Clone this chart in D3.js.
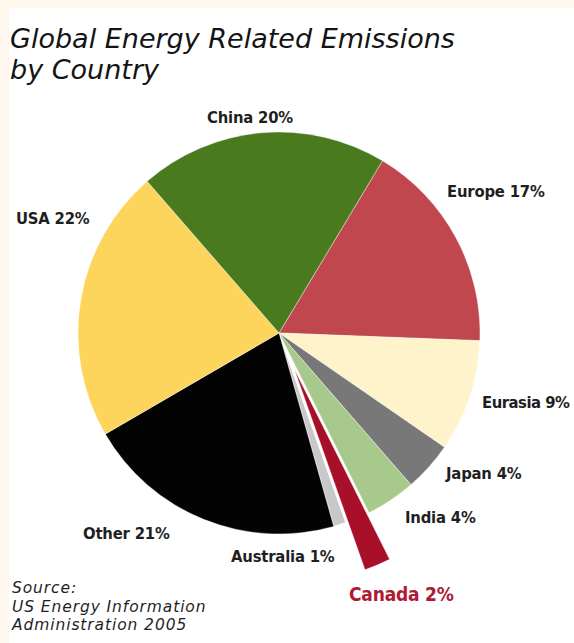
<!DOCTYPE html>
<html>
<head>
<meta charset="utf-8">
<script src="https://cdn.jsdelivr.net/npm/d3@7"></script>
<style>
  html, body { margin: 0; padding: 0; background: #fdf7ee; }
  svg { display: block; }
</style>
</head>
<body>
<svg id="chart" width="574" height="643"></svg>
<script>
// Shares of global energy related emissions, clockwise from the top right
const countries = ["Europe", "Eurasia", "Japan", "India", "Canada", "Australia", "Other", "USA", "China"];
const shares    = [17, 9, 4, 4, 2, 1, 21, 22, 20];
const colors    = ["#c1474f", "#fff3cc", "#787878", "#a7c98b", "#a80f28", "#c8c8c8", "#030303", "#fdd55c", "#4a7a1e"];
const labels    = ["Europe 17%", "Eurasia 9%", "Japan 4%", "India 4%", "Canada 2%", "Australia 1%", "Other 21%", "USA 22%", "China 20%"];
const titleLines  = ["Global Energy Related Emissions", "by Country"];
const sourceLines = ["Source:", "US Energy Information", "Administration 2005"];

const svg = d3.select("#chart");
const W = 574, H = 643;

// white panel inside a thin cream margin
svg.append("rect").attr("x", 9).attr("y", 8).attr("width", W - 9).attr("height", H - 8).attr("fill", "#ffffff");

const cx = 279, cy = 333, R = 201;
const startAngle = 31 * Math.PI / 180;

const pie = d3.pie().sort(null).value(d => d.v)
  .startAngle(startAngle).endAngle(startAngle + 2 * Math.PI);
const data = countries.map((c, i) => ({ name: c, v: shares[i], color: colors[i], label: labels[i] }));
const arcs = pie(data);

const arc = d3.arc().innerRadius(0).outerRadius(R);
const explodedArc = d3.arc().innerRadius(0).outerRadius(R + 12);

const g = svg.append("g").attr("transform", `translate(${cx},${cy})`);

g.selectAll("path.slice")
  .data(arcs)
  .join("path")
  .attr("class", "slice")
  .attr("fill", d => d.data.color)
  .attr("stroke", "#ffffff")
  .attr("stroke-width", d => d.data.name === "Australia" ? 1 : 0.4)
  .attr("transform", d => {
    if (d.data.name !== "Canada") return null;
    const mid = (d.startAngle + d.endAngle) / 2;
    const off = 39;
    return `translate(${off * Math.sin(mid)},${-off * Math.cos(mid)})`;
  })
  .attr("d", d => d.data.name === "Canada" ? explodedArc(d) : arc(d));

// label anchors (left x, baseline y) for each slice
const labelPos = {
  "China":     [207, 123],
  "Europe":    [447, 197],
  "USA":       [16, 224],
  "Eurasia":   [482, 408],
  "Japan":     [446, 479],
  "India":     [405, 523],
  "Other":     [83, 539],
  "Australia": [231, 562],
  "Canada":    [349, 601]
};

svg.selectAll("text.lbl")
  .data(arcs)
  .join("text")
  .attr("class", "lbl")
  .attr("x", d => labelPos[d.data.name][0])
  .attr("y", d => labelPos[d.data.name][1])
  .attr("font-family", "'DejaVu Sans Condensed', 'DejaVu Sans', sans-serif")
  .attr("font-weight", "bold")
  .attr("font-size", d => d.data.name === "Canada" ? 19 : 16.5)
  .attr("letter-spacing", d => d.data.name === "Eurasia" ? -0.5 : -0.2)
  .attr("fill", d => d.data.name === "Canada" ? "#b01a35" : "#1f1f1f")
  .text(d => d.data.label);

// title
svg.append("g").selectAll("text")
  .data(titleLines)
  .join("text")
  .attr("x", 10)
  .attr("y", (d, i) => 48 + i * 31)
  .attr("font-family", "'DejaVu Sans', sans-serif")
  .attr("font-style", "italic")
  .attr("font-size", 27)
  .attr("fill", "#141414")
  .text(d => d);

// source note
svg.append("g").selectAll("text")
  .data(sourceLines)
  .join("text")
  .attr("x", 12)
  .attr("y", (d, i) => 593 + i * 18.5)
  .attr("font-family", "'DejaVu Sans', sans-serif")
  .attr("font-style", "italic")
  .attr("font-size", 15.5)
  .attr("letter-spacing", 0.9)
  .attr("fill", "#1f1f1f")
  .text(d => d);
</script>
</body>
</html>
